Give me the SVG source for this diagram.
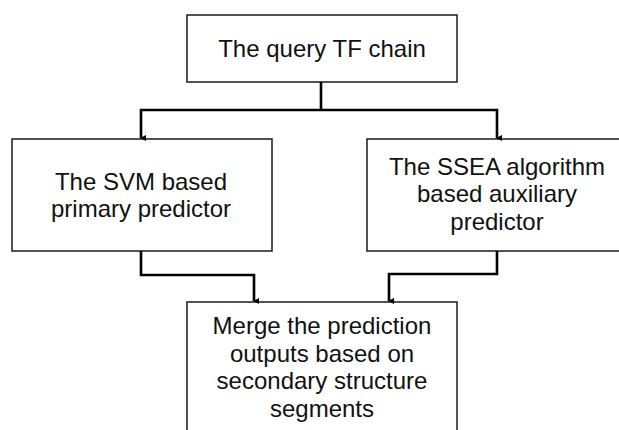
<svg xmlns="http://www.w3.org/2000/svg" width="619" height="430" viewBox="0 0 619 430">
<style>
.box{fill:#fff;stroke:#1a1a1a;stroke-width:1.5}
.lbl{font-family:"Liberation Sans",Arial,sans-serif;font-size:24px;fill:#111;text-anchor:middle}
.con{fill:none;stroke:#000;stroke-width:2.6}
</style>
<defs>
<marker id="ah" markerWidth="6" markerHeight="6" refX="3" refY="5" orient="auto" markerUnits="userSpaceOnUse" viewBox="0 0 6 6">
<path d="M0,0 L6,0 L3,6 Z" fill="#000"/>
</marker>
</defs>
<rect width="619" height="430" fill="#fff"/>
<g id="top">
<rect class="box" x="187" y="15" width="270" height="67"/>
<text class="lbl" x="322" y="57">The query TF chain</text>
</g>
<g id="svm">
<rect class="box" x="12" y="139" width="260" height="112"/>
<text class="lbl" x="141" y="190">The SVM based</text>
<text class="lbl" x="141" y="217">primary predictor</text>
</g>
<g id="ssea">
<rect class="box" x="367" y="139" width="260" height="112"/>
<text class="lbl" x="497" y="175">The SSEA algorithm</text>
<text class="lbl" x="497" y="202">based auxiliary</text>
<text class="lbl" x="497" y="230">predictor</text>
</g>
<g id="merge">
<rect class="box" x="187" y="302" width="270" height="140"/>
<text class="lbl" x="322" y="334">Merge the prediction</text>
<text class="lbl" x="322" y="362">outputs based on</text>
<text class="lbl" x="322" y="389">secondary structure</text>
<text class="lbl" x="322" y="417">segments</text>
</g>
<g id="connectors">
<path class="con" d="M321,82 V110"/>
<path class="con" d="M321,110 H141 V138" marker-end="url(#ah)"/>
<path class="con" d="M321,110 H497 V138" marker-end="url(#ah)"/>
<path class="con" d="M141,251 V275 H254 V301" marker-end="url(#ah)"/>
<path class="con" d="M497,251 V274 H389 V301" marker-end="url(#ah)"/>
</g>
</svg>
